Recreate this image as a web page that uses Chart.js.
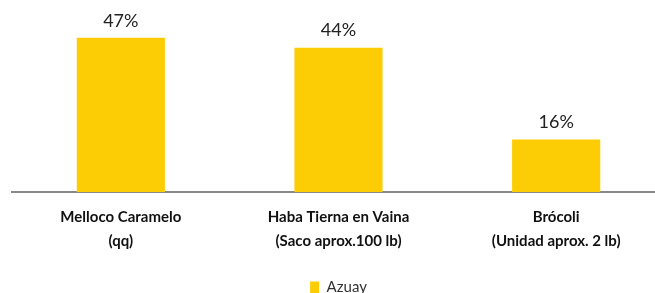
<!DOCTYPE html>
<html>
<head>
<meta charset="utf-8">
<script src="https://cdn.jsdelivr.net/npm/chart.js@4"></script>
<style>
  html, body { margin: 0; padding: 0; background: #fff; overflow: hidden; }
  /* canvas runs past the window edges so the legend sits low, like the reference */
  #wrap { width: 665px; height: 305px; }
</style>
</head>
<body>
<div id="wrap"><canvas id="chart" width="665" height="305"></canvas></div>
<script>
// data
const categories = [
    ['Melloco Caramelo', '(qq)'],
    ['Haba Tierna en Vaina', '(Saco aprox.100 lb)'],
    ['Brócoli', '(Unidad aprox. 2 lb)']
];
const azuayValues = [47, 44, 16];
const seriesName = 'Azuay';

const barColor = 'rgb(252, 205, 4)';

// value labels above bars
const valueLabels = {
    id: 'valueLabels',
    afterDatasetsDraw(chart) {
        const ctx = chart.ctx;
        const meta = chart.getDatasetMeta(0);
        ctx.save();
        ctx.font = '18px Lato';
        ctx.fillStyle = '#222';
        ctx.textAlign = 'center';
        ctx.textBaseline = 'bottom';
        meta.data.forEach((bar, i) => {
            ctx.fillText(azuayValues[i] + '%', bar.x, bar.y - 8);
        });
        ctx.restore();
    }
};

const ctx = document.getElementById('chart').getContext('2d');
new Chart(ctx, {
    type: 'bar',
    data: {
        labels: categories,
        datasets: [{
            label: seriesName,
            data: azuayValues,
            backgroundColor: barColor,
            borderWidth: 0,
            barPercentage: 0.405,
            categoryPercentage: 1
        }]
    },
    options: {
        responsive: false,
        animation: false,
        layout: { padding: { top: 28, left: 12, right: 0, bottom: 0 } },
        scales: {
            x: {
                grid: { display: false, drawTicks: false },
                border: { color: '#888', width: 2 },
                ticks: {
                    color: '#111',
                    padding: 13,
                    maxRotation: 0,
                    autoSkip: false,
                    font: { family: 'Lato', size: 15, weight: 'bold', lineHeight: 1.6 }
                }
            },
            y: {
                display: false,
                min: 0,
                max: 50
            }
        },
        plugins: {
            legend: {
                position: 'bottom',
                labels: {
                    color: '#333',
                    boxWidth: 9,
                    boxHeight: 12,
                    padding: 14,
                    font: { family: 'Lato', size: 15 }
                }
            },
            tooltip: { enabled: false }
        }
    },
    plugins: [valueLabels]
});
</script>
</body>
</html>
